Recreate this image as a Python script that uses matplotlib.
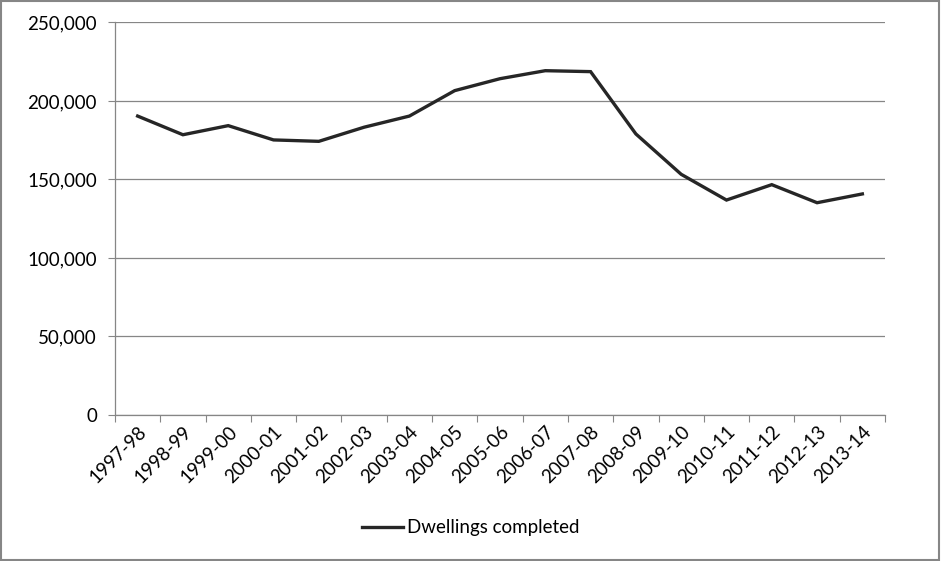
import numpy as np
import matplotlib.pyplot as plt
from matplotlib.patches import Rectangle
from matplotlib.ticker import FuncFormatter

plt.rcParams['font.family'] = ['Lato', 'DejaVu Sans']

years = ['1997-98', '1998-99', '1999-00', '2000-01', '2001-02', '2002-03',
         '2003-04', '2004-05', '2005-06', '2006-07', '2007-08', '2008-09',
         '2009-10', '2010-11', '2011-12', '2012-13', '2013-14']
dwellings = [190400, 178500, 184300, 175200, 174300, 183300, 190400, 206600,
             214200, 219300, 218700, 179000, 153300, 136900, 146700, 135200,
             140800]

fig = plt.figure(figsize=(9.41, 5.61), dpi=100)
ax = fig.add_axes([0.1222, 0.2603, 0.8183, 0.6996])

x = np.arange(len(years))
ax.plot(x, dwellings, color='#262626', lw=2.4, solid_joinstyle='miter',
        label='Dwellings completed')

ax.set_xlim(-0.5, len(years) - 0.5)
ax.set_ylim(0, 250000)
ax.set_yticks(np.arange(0, 250001, 50000))
ax.yaxis.set_major_formatter(FuncFormatter(lambda v, p: f'{int(v):,}'))
ax.grid(axis='y', color='#868686', lw=0.9)
ax.set_axisbelow(True)

# category boundaries carry the x tick marks
ax.set_xticks(np.arange(-0.5, len(years), 1.0))
ax.set_xticklabels([])
ax.set_xticks(x, minor=True)
ax.set_xticklabels(years, minor=True, rotation=45, ha='right',
                   rotation_mode='anchor', fontsize=13.5)
ax.tick_params(axis='x', which='minor', length=0, pad=6)
ax.tick_params(axis='x', which='major', length=5, color='#868686')
ax.tick_params(axis='y', length=5, color='#868686', labelsize=13.5, pad=8)

for s in ['top', 'right']:
    ax.spines[s].set_visible(False)
for s in ['left', 'bottom']:
    ax.spines[s].set_color('#868686')
    ax.spines[s].set_linewidth(0.9)

fig.legend(loc='center', bbox_to_anchor=(0.5, 0.059), frameon=False,
           fontsize=13.5, handlelength=2.2, handletextpad=0.2)

fig.patches.append(Rectangle((0.001, 0.001), 0.997, 0.997, transform=fig.transFigure,
                             fill=False, edgecolor='#868686', lw=1.5))

fig.savefig('out.png', dpi=100)
